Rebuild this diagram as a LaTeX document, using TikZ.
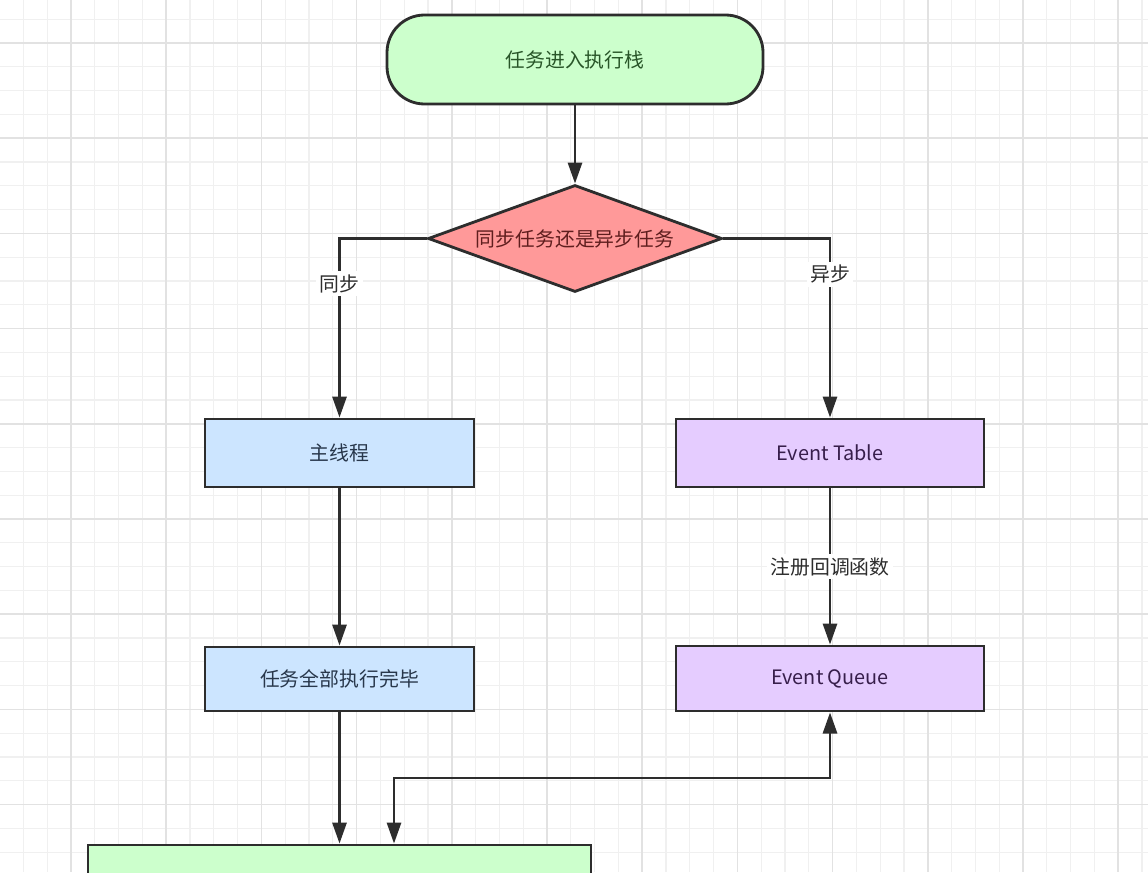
\documentclass[tikz,border=0pt]{standalone}
\usepackage{fontspec}
\setmainfont{Noto Sans CJK SC}
\usetikzlibrary{calc}
\usetikzlibrary{shapes.geometric}
\usetikzlibrary{positioning}
\usetikzlibrary{arrows.meta}

\definecolor{edgegray}{RGB}{45,45,45}
\definecolor{startfill}{RGB}{204,255,204}
\definecolor{starttext}{RGB}{40,85,40}
\definecolor{decidefill}{RGB}{255,153,153}
\definecolor{decidetext}{RGB}{95,30,30}
\definecolor{syncfill}{RGB}{204,229,255}
\definecolor{synctext}{RGB}{40,55,75}
\definecolor{asyncfill}{RGB}{229,204,255}
\definecolor{asynctext}{RGB}{55,30,75}
\definecolor{gridminor}{RGB}{240,240,240}
\definecolor{gridmajor}{RGB}{226,226,226}

\begin{document}
\begin{tikzpicture}[
    font=\fontsize{11.3}{13}\selectfont,
    flowbox/.style={rectangle, draw=edgegray, line width=1.6pt, inner sep=0pt},
    startbox/.style={flowbox, rounded corners=0.75cm, fill=startfill, text=starttext},
    decidebox/.style={diamond, draw=edgegray, line width=1.6pt, inner sep=0pt, aspect=2.75, fill=decidefill, text=decidetext},
    syncbox/.style={flowbox, fill=syncfill, text=synctext},
    asyncbox/.style={flowbox, fill=asyncfill, text=asynctext},
    flowline/.style={draw=edgegray, line width=1.6pt, -{Triangle[length=12pt, width=8pt]}},
    edgelabel/.style={fill=white, text=edgegray, inner sep=2pt},
]
    \useasboundingbox (0,0) rectangle (22.96,-17.44);
    \clip (0,0) rectangle (22.96,-17.44);

    % Grid
    \fill[white] (0,0) rectangle (22.96,-17.44);
    \foreach \i in {0,...,48} {
        \draw[gridminor, line width=0.6pt] ({-0.008+0.476*\i},0) -- ++(0,-17.44);
    }
    \foreach \i in {0,...,37} {
        \draw[gridminor, line width=0.6pt] (0,{-0.384-0.476*\i}) -- ++(22.96,0);
    }
    \foreach \i in {0,...,11} {
        \draw[gridmajor, line width=0.9pt] ({1.42+1.904*\i},0) -- ++(0,-17.44);
    }
    \foreach \i in {0,...,9} {
        \draw[gridmajor, line width=0.9pt] (0,{-0.86-1.904*\i}) -- ++(22.96,0);
    }

    % Start
    \node at (11.5, -1.19) [startbox, minimum width=7.52cm, minimum height=1.78cm](start){任务进入执行栈};

    % Decision
    \node at (11.5, -4.77) [decidebox, minimum width=5.88cm, minimum height=2.14cm](decide){同步任务还是异步任务};

    % Sync side
    \node at (6.79, -9.06) [syncbox, minimum width=5.38cm, minimum height=1.36cm](mainthread){主线程};
    \node at (6.79, -13.58) [syncbox, minimum width=5.38cm, minimum height=1.28cm](alldone){任务全部执行完毕};

    % Async side
    \node at (16.6, -9.06) [asyncbox, minimum width=6.16cm, minimum height=1.36cm](eventtable){Event Table};
    \node at (16.6, -13.57) [asyncbox, minimum width=6.16cm, minimum height=1.3cm](eventqueue){Event Queue};

    % Bottom
    \node at (6.79, -17.7) [startbox, rounded corners=0pt, minimum width=10.06cm, minimum height=1.6cm](finish){};
    \coordinate (turn) at (7.88, -15.56);

    % Connectors
    \draw [flowline] (start.south) -- (decide.north);
    \draw [flowline] (decide.west) -| (mainthread.north) node[pos=0.626, edgelabel]{同步};
    \draw [flowline] (decide.east) -| (eventtable.north) node[pos=0.6, edgelabel]{异步};
    \draw [flowline] (mainthread.south) -- (alldone.north);
    \draw [flowline] (eventtable.south) -- (eventqueue.north) node[pos=0.5, edgelabel]{注册回调函数};
    \draw [flowline] (alldone.south) -- (finish.north);
    \draw [flowline, {Triangle[length=12pt, width=8pt]}-{Triangle[length=12pt, width=8pt]}] (eventqueue.south) -- (eventqueue.south |- turn) -| (finish.north -| turn);

\end{tikzpicture}
\end{document}
